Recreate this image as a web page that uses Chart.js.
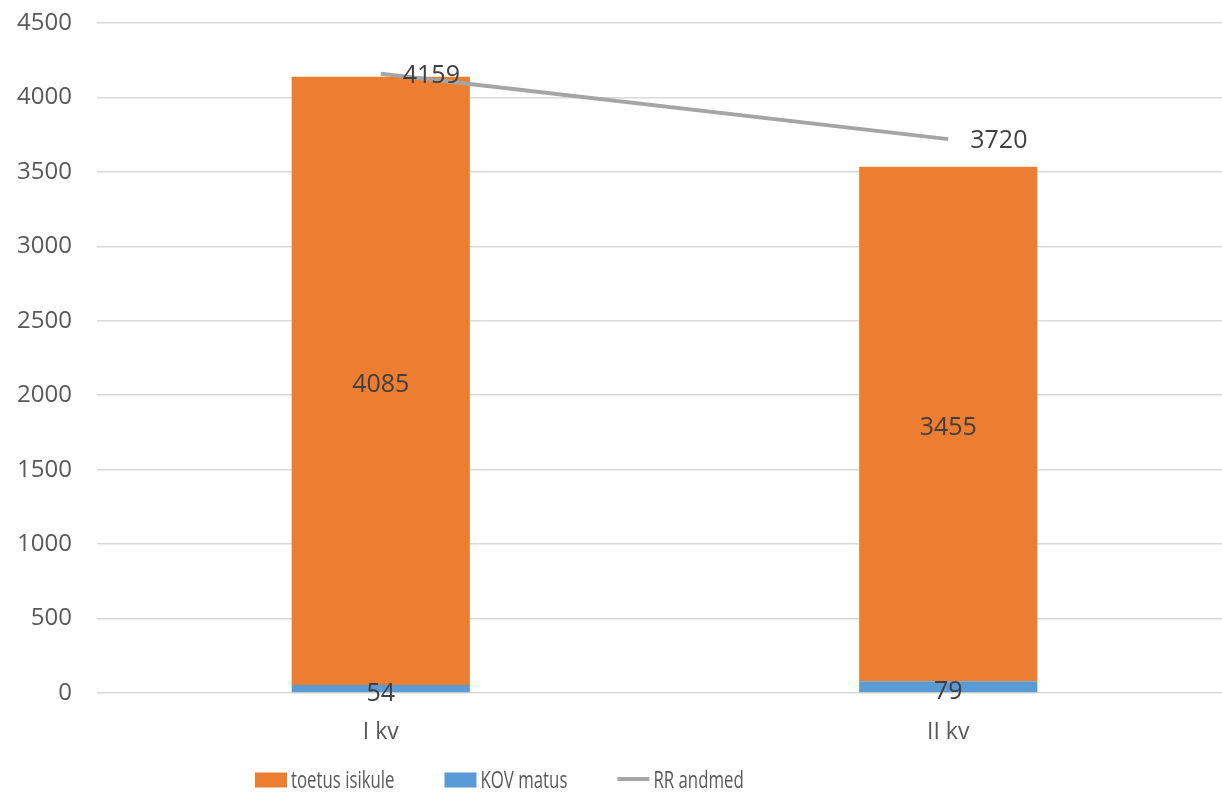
<!DOCTYPE html>
<html>
<head>
<meta charset="utf-8">
<script src="https://cdn.jsdelivr.net/npm/chart.js@4/dist/chart.umd.min.js"></script>
<style>
  html, body { margin: 0; padding: 0; background: #fff; overflow: hidden; }
  #wrap { position: relative; width: 1232px; height: 795px; }
</style>
</head>
<body>
<div id="wrap"><canvas id="c"></canvas></div>
<script>
const categories = ['I kv', 'II kv'];
const toetusIsikule = [4085, 3455];
const kovMatus = [54, 79];
const rrAndmed = [4159, 3720];
const yTicks = [0, 500, 1000, 1500, 2000, 2500, 3000, 3500, 4000, 4500];
const legendOrder = ['toetus isikule', 'KOV matus', 'RR andmed'];

const FONT = "'Open Sans', sans-serif";

const labelPlugin = {
  id: 'valueLabels',
  afterDatasetsDraw(chart) {
    const ctx = chart.ctx;
    ctx.save();
    ctx.font = '25px ' + FONT;
    ctx.fillStyle = '#404040';
    chart.data.datasets.forEach((ds, di) => {
      const meta = chart.getDatasetMeta(di);
      if (meta.hidden) return;
      meta.data.forEach((el, i) => {
        const v = ds.data[i];
        if (ds.type === 'line') {
          ctx.textAlign = 'left';
          ctx.textBaseline = 'middle';
          ctx.fillText(String(v), el.x + 22, el.y + 2);
        } else {
          ctx.textAlign = 'center';
          ctx.textBaseline = 'middle';
          const cy = (el.y + el.base) / 2;
          ctx.fillText(String(v), el.x, cy + (Math.abs(el.base - el.y) < 30 ? 5 : 4));
        }
      });
    });
    ctx.restore();
  }
};

// Custom legend drawn from the datasets (order given by legendOrder)
const legendPlugin = {
  id: 'customLegend',
  afterDraw(chart) {
    const ctx = chart.ctx;
    const cy = 781;
    const boxW = 32, boxH = 15, gapText = 4, gapItem = 50, squeeze = 0.7;
    let x = 255;
    ctx.save();
    ctx.font = '24px ' + FONT;
    ctx.textBaseline = 'middle';
    ctx.textAlign = 'left';
    legendOrder.forEach(name => {
      const ds = chart.data.datasets.find(d => d.label === name);
      if (ds.type === 'line') {
        ctx.strokeStyle = ds.borderColor;
        ctx.lineWidth = 4;
        ctx.beginPath();
        ctx.moveTo(x, cy - 2);
        ctx.lineTo(x + boxW, cy - 2);
        ctx.stroke();
      } else {
        ctx.fillStyle = ds.backgroundColor;
        ctx.fillRect(x, cy - boxH / 2 - 1, boxW, boxH);
      }
      x += boxW + gapText;
      const w = ctx.measureText(name).width * squeeze;
      ctx.save();
      ctx.translate(x, cy);
      ctx.scale(squeeze, 1);
      ctx.fillStyle = '#595959';
      ctx.fillText(name, 0, 0);
      ctx.restore();
      x += w + gapItem;
    });
    ctx.restore();
  }
};

new Chart(document.getElementById('c'), {
  data: {
    labels: categories,
    datasets: [
      { type: 'line', label: 'RR andmed', data: rrAndmed, borderColor: '#A5A5A5', backgroundColor: '#A5A5A5',
        borderWidth: 4, pointRadius: 0, tension: 0, order: 0 },
      { type: 'bar', label: 'KOV matus', data: kovMatus, backgroundColor: '#5B9BD5', order: 1 },
      { type: 'bar', label: 'toetus isikule', data: toetusIsikule, backgroundColor: '#ED7D31', order: 1 }
    ]
  },
  options: {
    responsive: true,
    maintainAspectRatio: false,
    animation: false,
    layout: { autoPadding: false, padding: { top: 23, bottom: 47, left: 0, right: 0 } },
    datasets: { bar: { categoryPercentage: 1, barPercentage: 0.314 } },
    scales: {
      x: {
        stacked: true,
        afterFit(scale) { scale.height = 55; scale.paddingLeft = 0; scale.paddingRight = 0; },
        grid: { display: false, drawTicks: false },
        border: { display: false },
        ticks: { color: '#595959', font: { family: FONT, size: 23 }, padding: 26 }
      },
      y: {
        stacked: true,
        min: 0, max: 4500,
        afterBuildTicks(scale) { scale.ticks = yTicks.map(v => ({ value: v })); },
        afterFit(scale) { scale.width = 97; scale.paddingTop = 0; scale.paddingBottom = 0; },
        grid: { color: '#D9D9D9', lineWidth: 1.5, drawTicks: false },
        border: { display: false },
        ticks: { color: '#595959', font: { family: FONT, size: 24 }, padding: 25,
                 callback: v => String(v) }
      }
    },
    plugins: {
      tooltip: { enabled: false },
      legend: { display: false }
    }
  },
  plugins: [labelPlugin, legendPlugin]
});
</script>
</body>
</html>
